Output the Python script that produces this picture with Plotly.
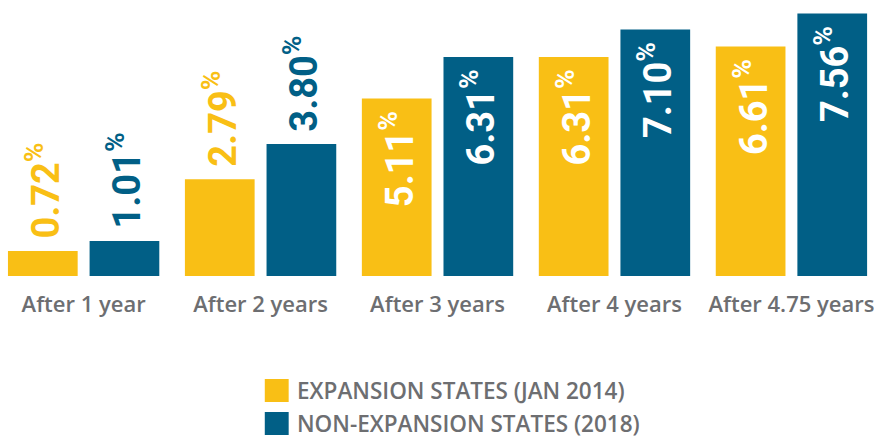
import plotly.graph_objects as go

categories = ["After 1 year", "After 2 years", "After 3 years", "After 4 years", "After 4.75 years"]
expansion = [0.72, 2.79, 5.11, 6.31, 6.61]
non_expansion = [1.01, 3.80, 6.31, 7.10, 7.56]
series_names = ["EXPANSION STATES (JAN 2014)", "NON-EXPANSION STATES (2018)"]
colors = ["#F9BF15", "#015F86"]

W, H = 874, 436
ML, MR, MT, MB = 0, 0, 0, 160
plot_h = H - MT - MB

NB = "\u00a0"


def labels(vals):
    return [NB + f"{v:.2f}<sup>%</sup>" + NB for v in vals]


def positions(vals):
    return ["inside" if v > 4.5 else "outside" for v in vals]


fig = go.Figure()
for name, vals, col in zip(series_names, [expansion, non_expansion], colors):
    fig.add_trace(go.Bar(
        x=categories, y=vals, name=name, marker=dict(color=col, line=dict(width=0)),
        text=labels(vals), textposition=positions(vals), textangle=-90,
        insidetextanchor="end", constraintext="none",
        insidetextfont=dict(color="white", family="Roboto", size=38, weight="bold"),
        outsidetextfont=dict(color=col, family="Roboto", size=38, weight="bold"),
        cliponaxis=False, showlegend=False, hoverinfo="skip",
    ))

fig.update_layout(
    width=W, height=H,
    margin=dict(l=ML, r=MR, t=MT, b=MB, pad=0),
    paper_bgcolor="white", plot_bgcolor="white",
    barmode="group", bargap=0.0774, bargroupgap=0.146,
    xaxis=dict(range=[-0.4726, 4.444], showgrid=False, zeroline=False, showline=False,
               ticks="outside", ticklen=9, tickcolor="rgba(0,0,0,0)",
               tickfont=dict(family="Open Sans", size=22, color="#6D6E71", weight=600)),
    yaxis=dict(range=[0, 7.95], visible=False),
    font=dict(family="Open Sans"),
)

# manual legend with large square swatches
sw_x0, sw_x1 = 266, 290
rows = [(379, 402), (412, 435)]
for (py0, py1), name, col in zip(rows, series_names, colors):
    fig.add_shape(type="rect", xref="paper", yref="paper",
                  x0=sw_x0 / W, x1=sw_x1 / W,
                  y0=(plot_h - py1) / plot_h, y1=(plot_h - py0) / plot_h,
                  fillcolor=col, line=dict(width=0))
    fig.add_annotation(xref="paper", yref="paper", x=296 / W,
                       y=(plot_h - (py0 + py1) / 2) / plot_h,
                       xanchor="left", yanchor="middle", showarrow=False,
                       text=name, font=dict(family="Open Sans", size=22.5, color="#6D6E71", weight=600))

fig.write_html("out.html", config={"displayModeBar": False},
               post_script="document.body.style.margin='0';document.body.style.overflow='hidden';")
